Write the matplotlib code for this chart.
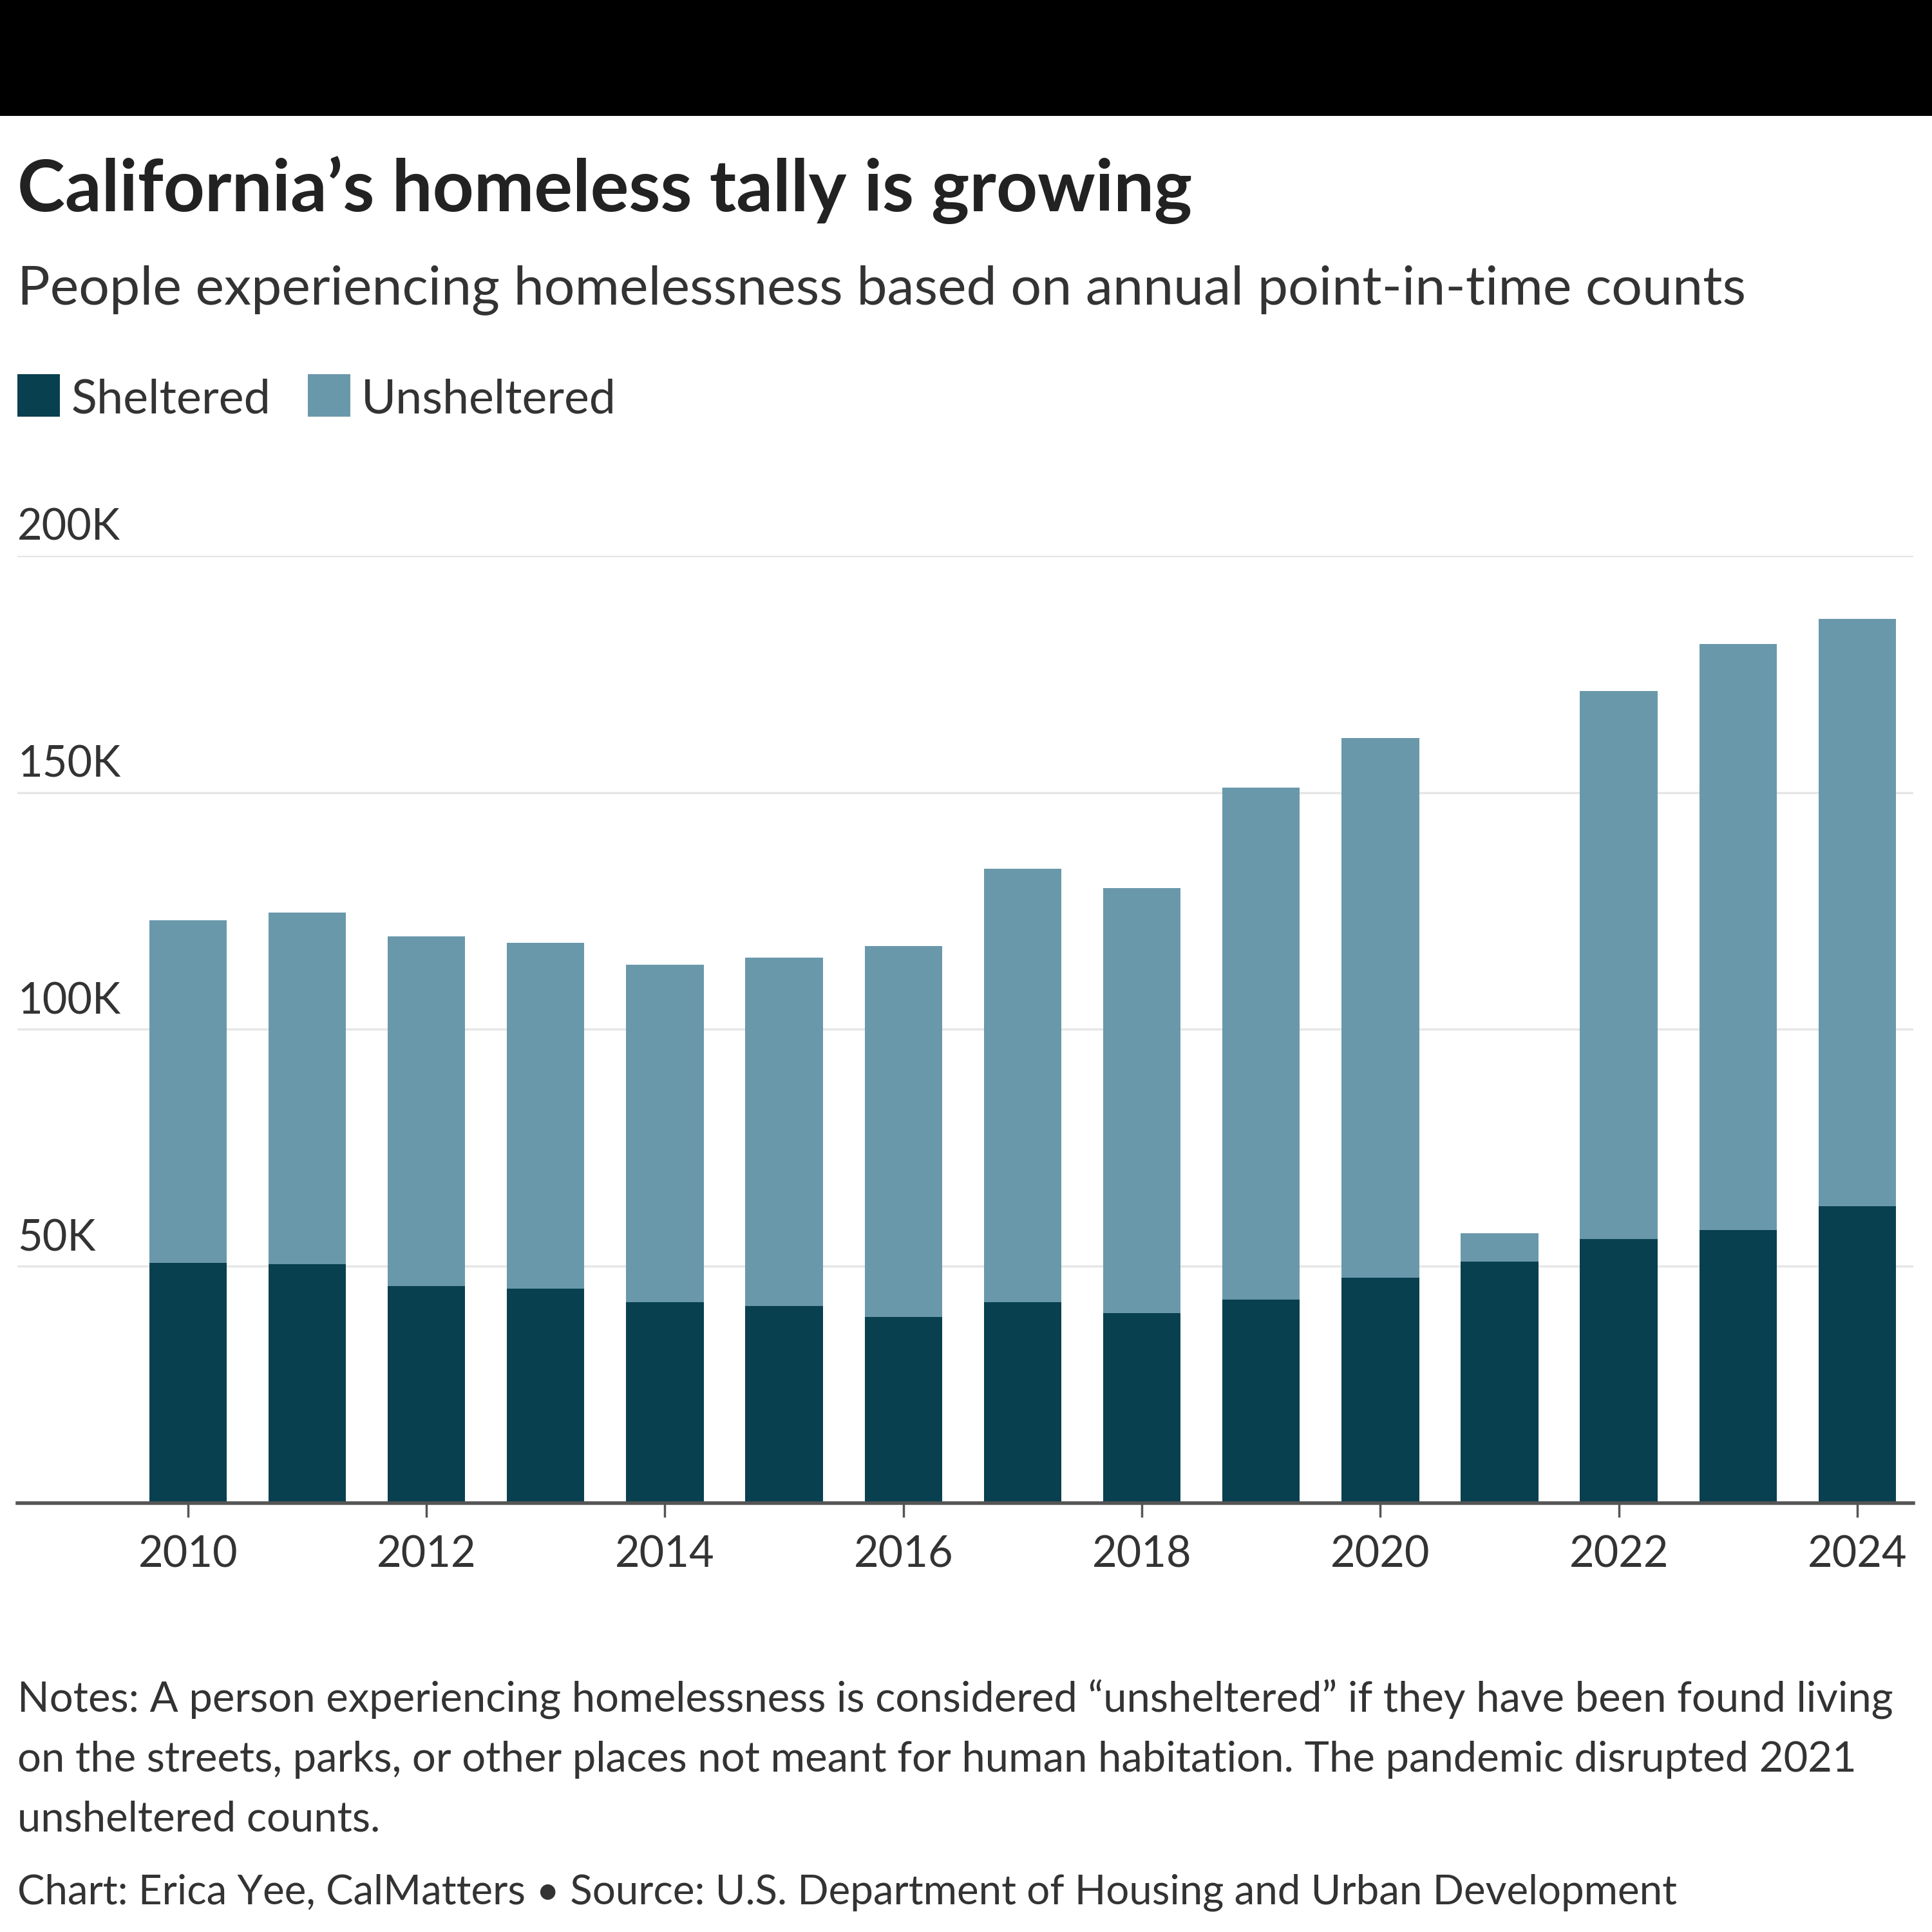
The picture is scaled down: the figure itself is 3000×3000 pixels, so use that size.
import matplotlib
matplotlib.use("Agg")
import matplotlib.pyplot as plt
import matplotlib.transforms as mtransforms
from matplotlib.patches import Rectangle

# values (thousands of people)
years = [2010, 2011, 2012, 2013, 2014, 2015, 2016, 2017, 2018, 2019, 2020, 2021, 2022, 2023, 2024]
sheltered = [50.7, 50.5, 45.8, 45.3, 42.4, 41.6, 39.3, 42.4, 40.1, 42.9, 47.6, 51.0, 55.7, 57.7, 62.7]
unsheltered = [72.3, 74.1, 73.8, 73.0, 71.3, 73.6, 78.3, 91.5, 89.7, 108.2, 113.9, 6.0, 115.7, 123.6, 124.0]
xtick_years = [2010, 2012, 2014, 2016, 2018, 2020, 2022, 2024]
ytick_vals = [50, 100, 150, 200]
ytick_labels = ["50K", "100K", "150K", "200K"]

title = "California\u2019s homeless tally is growing"
subtitle = "People experiencing homelessness based on annual point-in-time counts"
notes = [
    "Notes: A person experiencing homelessness is considered \u201cunsheltered\u201d if they have been found living",
    "on the streets, parks, or other places not meant for human habitation. The pandemic disrupted 2021",
    "unsheltered counts.",
]
credit = "Chart: Erica Yee, CalMatters \u2022 Source: U.S. Department of Housing and Urban Development"

c_shel = "#08404f"
c_unshel = "#6a98ab"
c_text = "#333333"
FONT = "Lato"

W = H = 3000
fig = plt.figure(figsize=(30, 30), dpi=100)
fig.patch.set_facecolor("white")
renderer = fig.canvas.get_renderer()


def fx(px):
    return px / W


def fy(py):
    return 1 - py / H


def fit_text(x, y, s, target_w, weight="normal", color=c_text):
    # place text with its left edge at x and baseline at y (pixels), sized to a target width
    t = fig.text(fx(x), fy(y), s, fontsize=50, family=FONT, weight=weight,
                 color=color, va="baseline", ha="left")
    w = t.get_window_extent(renderer).width
    t.set_fontsize(50 * target_w / w)
    return t


# black band at top
fig.patches.append(Rectangle((0, fy(180)), 1, 180 / H, transform=fig.transFigure,
                             facecolor="black", edgecolor="none"))

fit_text(27, 328, title, 1829, weight="bold", color="#222222")
fit_text(27, 472, subtitle, 2680)

# legend
sq = 66
fig.patches.append(Rectangle((fx(27), fy(647)), sq / W, sq / H, transform=fig.transFigure,
                             facecolor=c_shel, edgecolor="none"))
fit_text(111, 642, "Sheltered", 310)
fig.patches.append(Rectangle((fx(478), fy(647)), sq / W, sq / H, transform=fig.transFigure,
                             facecolor=c_unshel, edgecolor="none"))
fit_text(561, 642, "Unsheltered", 396)

# chart
ax = fig.add_axes([fx(27), fy(2334), (2971 - 27) / W, (2334 - 862.8) / H])
ax.bar(years, sheltered, width=0.65, color=c_shel, zorder=2)
ax.bar(years, unsheltered, width=0.65, bottom=sheltered, color=c_unshel, zorder=2)

ax.set_xlim(2008.57, 2024.47)
ax.set_ylim(0, 200)
ax.set_yticks(ytick_vals)
ax.yaxis.grid(True, color="#e6e6e6", linewidth=2.5, zorder=0)
ax.tick_params(axis="y", length=0, labelleft=False)
for sp in ["top", "right", "left"]:
    ax.spines[sp].set_visible(False)
ax.spines["bottom"].set_color("#555555")
ax.spines["bottom"].set_linewidth(4)
ax.spines["bottom"].set_zorder(3)

ax.set_xticks(xtick_years)
ax.set_xticklabels([str(y) for y in xtick_years])
ax.tick_params(axis="x", length=16, width=2.5, color="#555555", pad=20,
               labelsize=48, labelcolor=c_text)
for lab in ax.get_xticklabels():
    lab.set_family(FONT)

trans = mtransforms.blended_transform_factory(ax.transAxes, ax.transData)
for v, lab in zip(ytick_vals, ytick_labels):
    ax.text(0, v, lab, transform=trans + mtransforms.ScaledTranslation(0, 0.12, fig.dpi_scale_trans),
            ha="left", va="bottom", fontsize=48, family=FONT, color=c_text)

# notes and credit
notes_size = None
for i, line in enumerate(notes):
    if i == 0:
        t = fit_text(27, 2659, line, 2910)
        notes_size = t.get_fontsize()
    else:
        fig.text(fx(27), fy(2659 + i * 92), line, fontsize=notes_size, family=FONT,
                 color=c_text, va="baseline", ha="left")
fit_text(27, 2956, credit, 2575)

fig.savefig("out.png", dpi=100, facecolor="white")
